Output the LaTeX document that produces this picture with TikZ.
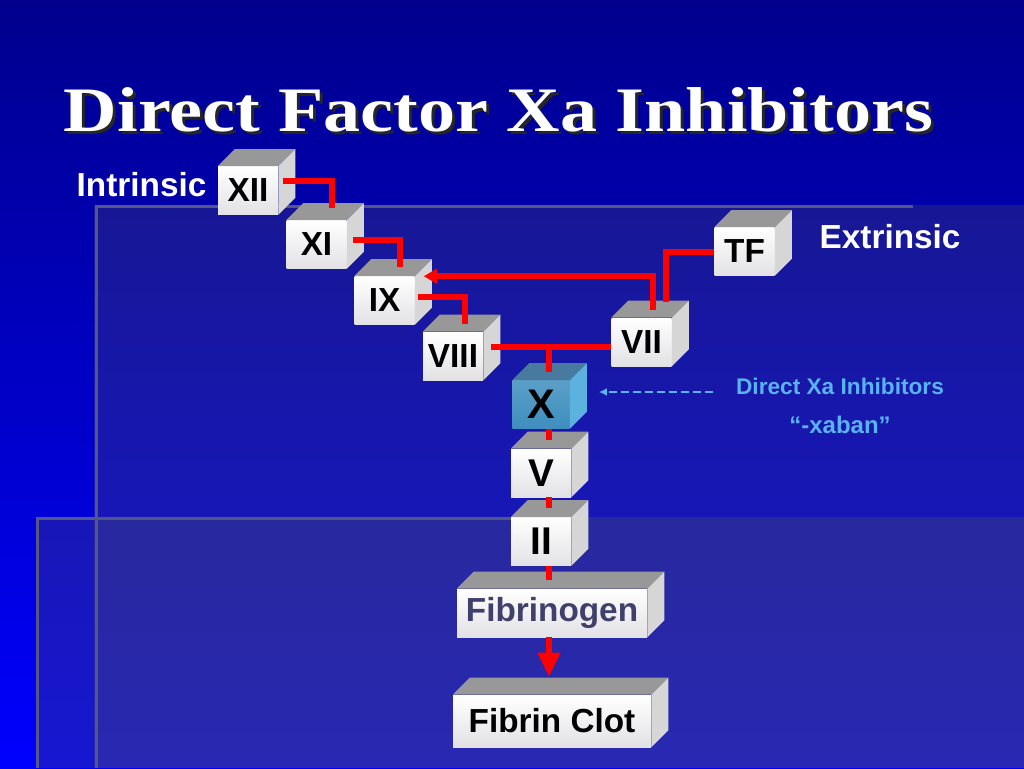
\documentclass[tikz,border=0pt]{standalone}
\usepackage{fontspec}
\setmainfont{Liberation Sans}
\newfontfamily\titlefont{Liberation Serif}
\usetikzlibrary{arrows.meta}

\definecolor{bgtop}{RGB}{0,0,140}
\definecolor{bgmid}{RGB}{0,0,215}
\definecolor{bgbot}{RGB}{0,0,255}
\definecolor{panelgray}{RGB}{86,86,96}
\definecolor{paneledge}{RGB}{85,85,135}
\definecolor{cubetop}{RGB}{152,152,152}
\definecolor{cubeside}{RGB}{214,214,214}
\definecolor{cubefront}{RGB}{226,226,230}
\definecolor{xfront}{RGB}{62,142,190}
\definecolor{xtopc}{RGB}{72,122,160}
\definecolor{xside}{RGB}{92,178,222}
\definecolor{inhibblue}{RGB}{90,178,240}
\definecolor{fibtext}{RGB}{64,64,108}

\begin{document}
\begin{tikzpicture}[x=0.75pt, y=-0.75pt]
  \useasboundingbox (0,0) rectangle (1024,768);
  \tikzstyle{cube}=[rectangle, inner sep=0pt, minimum width=45pt, minimum height=36pt, top color=white, bottom color=cubefront, font=\bfseries\fontsize{25}{25}\selectfont]
  \tikzstyle{big}=[font=\bfseries\fontsize{29}{29}\selectfont]
  \tikzstyle{wide}=[minimum width=142.5pt, font=\bfseries\fontsize{25}{25}\selectfont]
  \tikzstyle{xcube}=[top color=xfront!85!white, bottom color=xfront, minimum width=43pt, font=\bfseries\fontsize{31}{31}\selectfont]
  \tikzstyle{link}=[draw=red, line width=4.5pt]
  \tikzstyle{inhib}=[draw=inhibblue, line width=1.3pt, dash pattern=on 6pt off 3pt, -{Latex[length=6pt, width=6pt]}]
  \tikzstyle{panel}=[fill=panelgray, fill opacity=0.28]
  \tikzstyle{rim}=[draw=paneledge, line width=2.25pt]

  % Hintergrund und Rahmen
  \shade[top color=bgtop, middle color=bgmid, bottom color=bgbot] (0,0) rectangle (1024,768);
  \fill[panel] (94,205) rectangle (1024,768);
  \fill[panel] (36,517) rectangle (1024,768);
  \draw[rim] (913,206) -- (96,206) -- (96,768);
  \draw[rim] (540,518.5) -- (37.5,518.5) -- (37.5,768);

  \node[anchor=base, text=black!85, font=\titlefont\bfseries\fontsize{47.5}{47.5}\selectfont] at (501.5,134) {\scalebox{1.17}[1]{Direct Factor Xa Inhibitors}};
  \node[anchor=base, text=white, font=\titlefont\bfseries\fontsize{47.5}{47.5}\selectfont] (title) at (498.5,131) {\scalebox{1.17}[1]{Direct Factor Xa Inhibitors}};

  \node[anchor=base west, text=white, font=\bfseries\fontsize{25}{25}\selectfont] (intr) at (72,196) {Intrinsic};
  \node[anchor=base west, text=white, font=\bfseries\fontsize{25}{25}\selectfont] (extr) at (815,248) {Extrinsic};
  \node[text=inhibblue, font=\bfseries\fontsize{17}{17}\selectfont] (dxa) at (840,386) {Direct Xa Inhibitors};
  \node[text=inhibblue, font=\bfseries\fontsize{18}{18}\selectfont] (xaban) at (840,425) {“-xaban”};

  \node[cube] (f12) at (248,190.5) {XII};
  \node[cube] (f11) at (316.5,244.5) {XI};
  \node[cube] (f9) at (384.5,300.5) {IX};
  \node[cube] (f8) at (453,356) {VIII};
  \node[cube] (f7) at (641.5,342) {VII};
  \node[cube] (tf) at (744.5,251.5) {TF};
  \node[cube, xcube] (f10) at (541,404.5) {X};
  \node[cube, big] (f5) at (541,473) {V};
  \node[cube, big] (f2) at (541,541.5) {II};
  \node[cube, wide, text=fibtext] (fib) at (552,613) {Fibrinogen};
  \node[cube, wide, minimum width=148.5pt, minimum height=39pt] (clot) at (552,721) {Fibrin Clot};

  % Seiten der Wuerfel
  \foreach \n/\tc/\sc in {f12/cubetop/cubeside, f11/cubetop/cubeside, f9/cubetop/cubeside,
      f8/cubetop/cubeside, f7/cubetop/cubeside, tf/cubetop/cubeside, f10/xtopc/xside,
      f5/cubetop/cubeside, f2/cubetop/cubeside, fib/cubetop/cubeside, clot/cubetop/cubeside} {
    \fill[fill=\tc] (\n.north west) -- ([shift={(17,-17)}]\n.north west) -- ([shift={(17,-17)}]\n.north east) -- (\n.north east) -- cycle;
    \fill[fill=\sc] (\n.north east) -- ([shift={(17,-17)}]\n.north east) -- ([shift={(17,-17)}]\n.south east) -- (\n.south east) -- cycle;
  }

  \draw[link] ([shift={(5,-10)}]f12.east) -| ([shift={(15.5,-12)}]f11.north);
  \draw[link] ([shift={(6,-5)}]f11.east) -| ([shift={(15.5,-9)}]f9.north);
  \draw[link] ([shift={(3,-3.5)}]f9.east) -| ([shift={(12,-8)}]f8.north);
  \coordinate (j8) at ([shift={(8,-9)}]f8.east);
  \coordinate (j10) at ([shift={(8,-8)}]f10.north);
  \draw[link] (j8) -- (j8 -| f7.west);
  \draw[link] (j8 -| j10) -- (j10);
  \draw[link] (tf.west) -| ([shift={(24.5,-16)}]f7.north);
  \draw[link, -{Triangle[length=10pt, width=11pt]}] ([shift={(11.5,-8)}]f7.north) |- ([shift={(9,0)}]f9.north east);
  \draw[link] ([shift={(8,0)}]f10.south) -- ([shift={(8,-9)}]f5.north);
  \draw[link] ([shift={(8,0)}]f5.south) -- ([shift={(8,-9)}]f2.north);
  \draw[link] ([shift={(8,0)}]f2.south) -- ([shift={(-3,-9)}]fib.north);
  \draw[link, -{Triangle[length=18pt, width=16pt]}] ([shift={(-3,0)}]fib.south) -- ([shift={(-3,-18)}]clot.north);

  \coordinate (d0) at ([shift={(-18,6)}]dxa.west);
  \coordinate (d1) at ([shift={(29,0)}]f10.east);
  \draw[inhib] (d0) -- (d0 -| d1);
\end{tikzpicture}
\end{document}
